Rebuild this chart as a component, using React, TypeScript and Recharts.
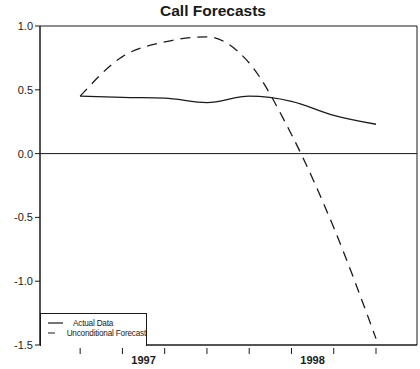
import React from 'react';
import {
  LineChart,
  Line,
  XAxis,
  YAxis,
  ReferenceLine,
  ReferenceArea,
} from 'recharts';

// quarterly observations, index 0..7
const quarters = [0, 1, 2, 3, 4, 5, 6, 7];
const actual = [0.45, 0.44, 0.435, 0.4, 0.45, 0.41, 0.3, 0.23];
const forecast = [0.45, 0.76, 0.875, 0.915, 0.71, 0.15, -0.58, -1.45];
const yearTicks = [1.5, 5.5];
const yearLabels = ['1997', '1998'];
const yTicks = [-1.5, -1.0, -0.5, 0.0, 0.5, 1.0];
const xDomain = [-0.95, 7.97];
const yDomain = [-1.5, 1.0];

const data = quarters.map((q, i) => ({ q, actual: actual[i], forecast: forecast[i] }));

const FONT = '"Liberation Sans", Arial, sans-serif';
const INK = '#1a1a1a';

function XTick(props: any) {
  const { x, y, payload } = props;
  const idx = yearTicks.indexOf(payload.value);
  if (idx >= 0) {
    return (
      <text x={x} y={y + 11} textAnchor="middle" fontSize={11} fontWeight="bold" fontFamily={FONT} fill={INK}>
        {yearLabels[idx]}
      </text>
    );
  }
  return <line x1={x} x2={x} y1={y - 5} y2={y + 1} stroke={INK} strokeWidth={1} />;
}

function LegendBox() {
  const row = (dash: string | undefined, label: string) => (
    <div style={{ display: 'flex', alignItems: 'center', height: 10 }}>
      <svg width={16} height={6} style={{ marginLeft: 7, marginRight: 9 }}>
        <line x1={0} x2={15} y1={3} y2={3} stroke={INK} strokeWidth={1.2} strokeDasharray={dash} />
      </svg>
      <span style={{ fontSize: 8.2, fontFamily: FONT, color: INK, whiteSpace: 'nowrap', letterSpacing: -0.2 }}>{label}</span>
    </div>
  );
  return (
    <div
      style={{
        position: 'absolute',
        left: 40,
        top: 313,
        width: 107,
        height: 33,
        border: `1px solid ${INK}`,
        borderBottom: 'none',
        background: '#fff',
        boxSizing: 'border-box',
        paddingTop: 4,
      }}
    >
      {row(undefined, 'Actual Data')}
      {row('7 6 1 9', 'Unconditional Forecast')}
    </div>
  );
}

export default function App() {
  return (
    <div style={{ position: 'absolute', left: 0, top: 0, width: 420, height: 369, background: '#fff' }}>
      <div
        style={{
          position: 'absolute',
          top: 2,
          left: 0,
          width: 426,
          textAlign: 'center',
          fontFamily: FONT,
          fontWeight: 'bold',
          fontSize: 15.5,
          color: INK,
        }}
      >
        Call Forecasts
      </div>
      <LineChart width={420} height={369} data={data} margin={{ top: 26, right: 3, left: 0, bottom: 0 }}>
        <XAxis
          dataKey="q"
          type="number"
          domain={xDomain}
          ticks={[0, 1, 1.5, 2, 3, 4, 5, 5.5, 6, 7]}
          tick={<XTick />}
          tickLine={false}
          axisLine={{ stroke: INK }}
          height={24}
          allowDataOverflow
          interval={0}
        />
        <YAxis
          domain={yDomain}
          ticks={yTicks}
          tickFormatter={(v: number) => v.toFixed(1)}
          tick={{ fontSize: 11, fill: INK, fontFamily: FONT }}
          tickLine={{ stroke: INK }}
          tickSize={5}
          axisLine={{ stroke: INK }}
          width={40}
          interval={0}
        />
        <ReferenceArea
          x1={xDomain[0]}
          x2={xDomain[1]}
          y1={yDomain[0]}
          y2={yDomain[1]}
          fill="none"
          fillOpacity={0}
          stroke={INK}
          strokeWidth={1}
        />
        <ReferenceLine y={0} stroke={INK} strokeWidth={1} />
        <Line
          type="monotone"
          dataKey="actual"
          stroke={INK}
          strokeWidth={1.3}
          dot={false}
          isAnimationActive={false}
          name="Actual Data"
        />
        <Line
          type="monotone"
          dataKey="forecast"
          stroke={INK}
          strokeWidth={1.3}
          strokeDasharray="10 7"
          dot={false}
          isAnimationActive={false}
          name="Unconditional Forecast"
        />
      </LineChart>
      <LegendBox />
    </div>
  );
}
